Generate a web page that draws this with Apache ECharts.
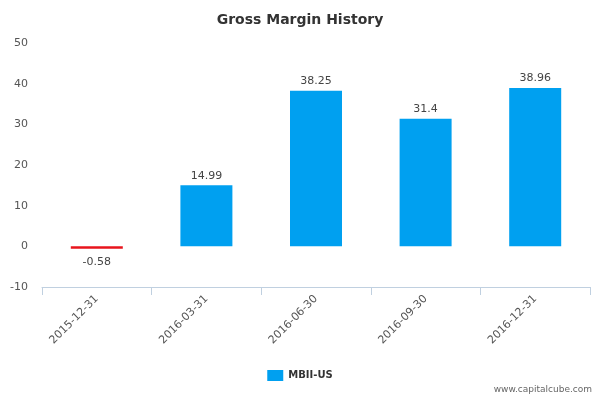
<!DOCTYPE html>
<html>
<head>
<meta charset="utf-8">
<script src="https://cdn.jsdelivr.net/npm/echarts@6/dist/echarts.min.js"></script>
<style>html,body{margin:0;padding:0;}#main{width:600px;height:400px;}</style>
</head>
<body>
<div id="main"></div>
<script>
// gross margin per quarter
const categories = ['2015-12-31', '2016-03-31', '2016-06-30', '2016-09-30', '2016-12-31']
const margins = [-0.58, 14.99, 38.25, 31.4, 38.96]
const yTicks = { min: -10, max: 50, interval: 10 }

const chart = echarts.init(document.getElementById('main'))

let option = {
  title: {
    text: 'Gross Margin History',
    left: 'center',
    top: 8,
    textStyle: { fontFamily: 'DejaVu Sans', fontSize: 14, fontWeight: 'bold', color: '#333' }
  },
  grid: { left: 42, right: 10, top: 43, bottom: 113 },
  legend: {
    bottom: 14,
    left: 'center',
    icon: 'rect',
    itemWidth: 16,
    itemHeight: 11,
    textStyle: { fontFamily: 'DejaVu Sans', fontSize: 10, fontWeight: 'bold', color: '#333' },
    data: ['MBII-US']
  },
  graphic: [{
    type: 'text', right: 8, bottom: 6,
    style: { text: 'www.capitalcube.com', fill: '#666', font: '9px DejaVu Sans' }
  }],
  xAxis: {
    type: 'category',
    data: categories,
    axisLine: { onZero: false, lineStyle: { color: '#c0d0e0' } },
    axisTick: { show: true, alignWithLabel: false, length: 8, lineStyle: { color: '#c0d0e0' } },
    axisLabel: { rotate: 45, color: '#555', fontFamily: 'DejaVu Sans', fontSize: 11, margin: 10 }
  },
  yAxis: {
    type: 'value',
    min: yTicks.min, max: yTicks.max, interval: yTicks.interval,
    axisLine: { show: false },
    axisTick: { show: false },
    splitLine: { show: false },
    axisLabel: { color: '#555', fontFamily: 'DejaVu Sans', fontSize: 11, margin: 14 }
  },
  series: [{
    name: 'MBII-US',
    type: 'bar',
    barWidth: 52,
    data: margins.map(v => ({
      value: v,
      itemStyle: { color: v < 0 ? '#e8141c' : '#00a0f0' },
      label: { position: v < 0 ? 'bottom' : 'top', distance: v < 0 ? 8 : 4 }
    })),
    itemStyle: { color: '#00a0f0' },
    label: { show: true, color: '#444', fontFamily: 'DejaVu Sans', fontSize: 11 }
  }]
}
chart.setOption(option)
</script>
</body>
</html>
